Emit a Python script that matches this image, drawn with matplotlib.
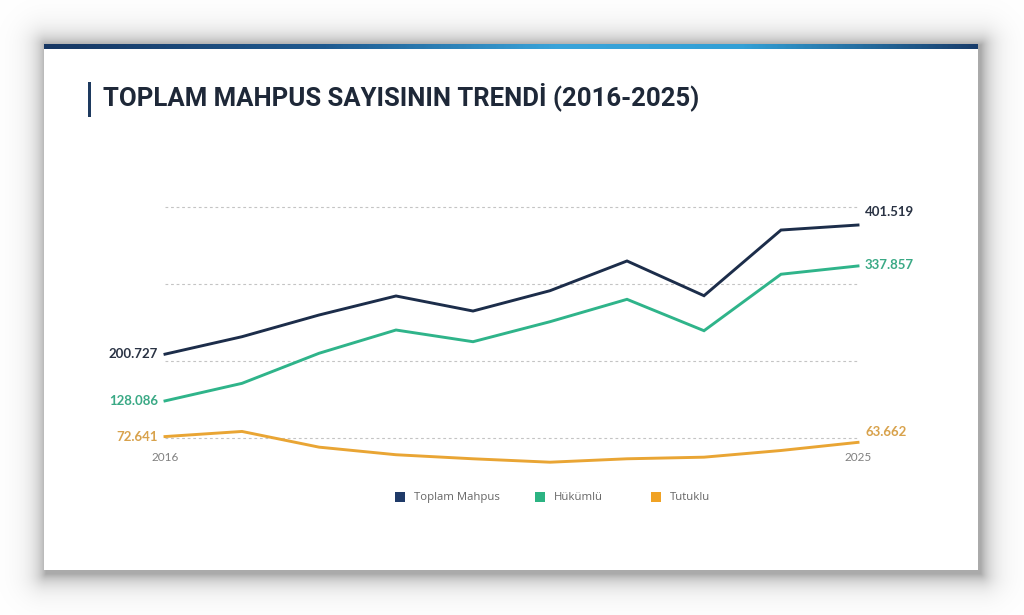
import numpy as np
import matplotlib
matplotlib.use("Agg")
import matplotlib.pyplot as plt
from matplotlib.colors import LinearSegmentedColormap
from matplotlib.patches import Rectangle

W, H = 1024, 615

years = list(range(2016, 2026))
toplam = [200727, 227900, 261600, 291200, 267800, 299400, 345600, 291600, 393700, 401519]
hukumlu = [128086, 155400, 202100, 238300, 220100, 251200, 286000, 237200, 325000, 337857]
tutuklu = [72641, 80600, 56200, 44400, 38100, 32800, 38100, 40600, 51000, 63662]
grid_vals = [70000, 190000, 310000, 430000]

series_names = ["Toplam Mahpus", "Hükümlü", "Tutuklu"]
line_colors = ["#1c2d4a", "#2fb48a", "#e9a534"]
label_colors = ["#2a3344", "#3aa985", "#d8a24c"]
legend_colors = ["#1f3a68", "#2cb382", "#f0a224"]
end_label_dy = [13, 1, 10]   # pixel nudge of the 2025 labels
title = "TOPLAM MAHPUS SAYISININ TRENDİ (2016-2025)"


def fmt(v):
    return f"{v:,}".replace(",", ".")


fig = plt.figure(figsize=(W / 100, H / 100), dpi=100)
fig.patch.set_facecolor("white")

# background: slide card with soft shadow
bg = fig.add_axes([0, 0, 1, 1])
bg.set_xlim(0, W)
bg.set_ylim(H, 0)
bg.axis("off")
x0, y0, x1, y1 = 44, 44, 978, 570
xx, yy = np.meshgrid(np.arange(W) + 0.5, np.arange(H) + 0.5)
dx = np.maximum(np.maximum(x0 + 2 - xx, xx - (x1 + 3)), 0)
dy = np.maximum(np.maximum(y0 + 1 - yy, yy - (y1 + 4)), 0)
d = np.hypot(dx, dy)
shade = 1 - 0.33 * np.exp(-d / 11.0)
img = np.dstack([shade, shade, shade])
bg.imshow(img, extent=[0, W, H, 0], aspect="auto", zorder=0, interpolation="bilinear")
bg.add_patch(Rectangle((x0, y0), x1 - x0, y1 - y0, facecolor="white", edgecolor="none", zorder=1))
bar_cmap = LinearSegmentedColormap.from_list(
    "bar", [(0, "#173763"), (0.3, "#1f5a90"), (0.55, "#39a4da"), (0.75, "#33a0d6"), (1, "#183d6c")])
bg.imshow(np.linspace(0, 1, 400)[None, :], cmap=bar_cmap, extent=[x0, x1, y0 + 5, y0],
          aspect="auto", zorder=2)
bg.add_patch(Rectangle((88, 82), 2.5, 35, facecolor="#1e3a5f", edgecolor="none", zorder=2))
bg.text(103, 97, title, fontsize=18.5, fontweight="bold", family="Roboto",
        color="#1e2838", va="center", ha="left", zorder=3)

# legend
leg_x = [400, 540, 656]
for name, c, lx in zip(series_names, legend_colors, leg_x):
    bg.add_patch(Rectangle((lx - 5, 492), 10, 10, facecolor=c, edgecolor="none", zorder=3))
    bg.text(lx + 14, 497.5, name, fontsize=8.2, family="Open Sans", color="#666666",
            va="center", ha="left", zorder=3)

# chart
ax = fig.add_axes([165 / W, 1 - 470 / H, 693 / W, 270 / H])
ax.set_facecolor("none")
ax.set_xlim(2016, 2025)
ax.set_ylim(20670, 440400)
for s in ax.spines.values():
    s.set_visible(False)
ax.set_yticks(grid_vals)
ax.set_xticks([])
ax.tick_params(left=False, labelleft=False)
ax.grid(axis="y", linestyle=(0, (2.5, 2.5)), color="#c4c4c4", linewidth=0.8)

for vals, c, lc, dy_end in zip([toplam, hukumlu, tutuklu], line_colors, label_colors, end_label_dy):
    ax.plot(years, vals, color=c, linewidth=2.1, solid_joinstyle="miter", clip_on=False, zorder=3)
    ax.annotate(fmt(vals[0]), (years[0], vals[0]), xytext=(-7, 0), textcoords="offset pixels",
                ha="right", va="center", fontsize=9.5, fontweight="bold", family="Lato", color=lc)
    ax.annotate(fmt(vals[-1]), (years[-1], vals[-1]), xytext=(7, dy_end), textcoords="offset pixels",
                ha="left", va="center", fontsize=9.5, fontweight="bold", family="Lato", color=lc)

for yr in [years[0], years[-1]]:
    ax.text(yr, 0.045, str(yr), transform=ax.get_xaxis_transform(), ha="center", va="center",
            fontsize=8.5, family="Lato", color="#808080")

fig.savefig("out.png", dpi=100)
